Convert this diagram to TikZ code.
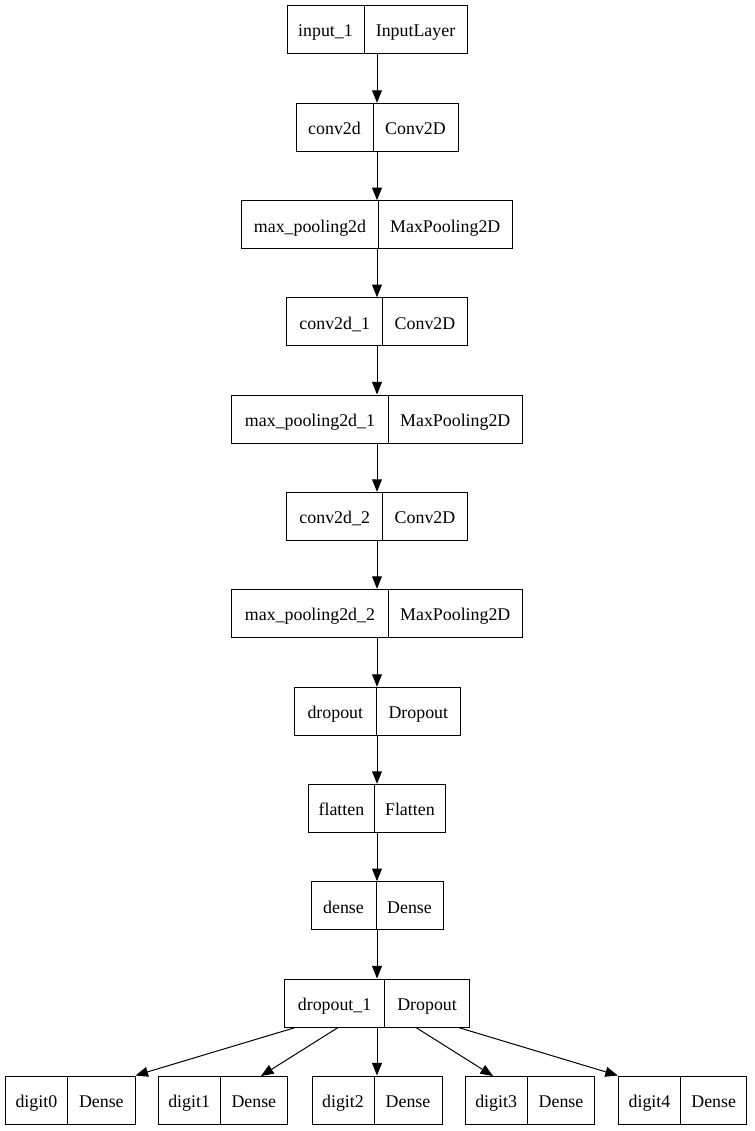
\documentclass[tikz,border=0pt]{standalone}
\usepackage{fontspec}
\setmainfont{Liberation Serif}
\usetikzlibrary{arrows.meta}

\tikzset{
  box/.style={draw=black, line width=0.75pt, minimum height=36pt, inner sep=0pt},
  divider/.style={draw=black, line width=0.75pt},
  lbl/.style={inner sep=0pt, text height=12pt, text depth=1pt},
  arr/.style={draw=black, line width=0.75pt, -{Triangle[length=9.4pt,width=7.4pt]}},
}

% one layer record: name, left x, divider x, right x, top y, layer name, layer class
\newcommand\layerrec[7]{%
  \node[box, minimum width={(#4-#2)*0.75pt}] (#1) at ({(#2+#4)/2},{#5+24}) {};
  \node[lbl] (#1-n) at ({(#2+#3)/2},{#5+24}) {#6};
  \node[lbl] (#1-c) at ({(#3+#4)/2},{#5+24}) {#7};
  \draw[divider] (#3,#5) -- (#3,{#5+48});
}

\begin{document}
\begin{tikzpicture}[x=0.75pt, y=-0.75pt, font=\fontsize{13.4pt}{16pt}\selectfont]
\useasboundingbox (0,0) rectangle (754,1131);

\layerrec{in}{287}{364}{467}{5.5}{input\_1}{InputLayer}
\layerrec{c0}{296}{373}{458}{103.3}{conv2d}{Conv2D}
\layerrec{p0}{241.7}{378.3}{512.3}{200.7}{max\_pooling2d}{MaxPooling2D}
\layerrec{c1}{286.7}{382.7}{467.3}{297.7}{conv2d\_1}{Conv2D}
\layerrec{p1}{231.7}{388.3}{522.3}{395}{max\_pooling2d\_1}{MaxPooling2D}
\layerrec{c2}{286.7}{382.7}{467.3}{492.3}{conv2d\_2}{Conv2D}
\layerrec{p2}{231.7}{388.3}{522.3}{589.3}{max\_pooling2d\_2}{MaxPooling2D}
\layerrec{dr}{294}{376.7}{460}{687.3}{dropout}{Dropout}
\layerrec{fl}{308.5}{374.3}{445.5}{784.3}{flatten}{Flatten}
\layerrec{de}{311}{376}{443}{881.7}{dense}{Dense}
\layerrec{dr1}{284.5}{384.7}{469.5}{979}{dropout\_1}{Dropout}

\layerrec{d0}{5}{67.7}{135}{1076}{digit0}{Dense}
\layerrec{d1}{158.3}{220}{287.7}{1076}{digit1}{Dense}
\layerrec{d2}{312}{374}{442}{1076}{digit2}{Dense}
\layerrec{d3}{465}{527.3}{594.7}{1076}{digit3}{Dense}
\layerrec{d4}{618.3}{680.7}{746.7}{1076}{digit4}{Dense}

% main chain, kept strictly vertical
\draw[arr] (in) -- (in |- c0.north);
\draw[arr] (c0) -- (c0 |- p0.north);
\draw[arr] (p0) -- (p0 |- c1.north);
\draw[arr] (c1) -- (c1 |- p1.north);
\draw[arr] (p1) -- (p1 |- c2.north);
\draw[arr] (c2) -- (c2 |- p2.north);
\draw[arr] (p2) -- (p2 |- dr.north);
\draw[arr] (dr) -- (dr |- fl.north);
\draw[arr] (fl) -- (fl |- de.north);
\draw[arr] (de) -- (de |- dr1.north);

% output heads
\coordinate (t1) at (261,1076);
\coordinate (t3) at (493,1076);
\draw[arr] (dr1) -- (d0.north east);
\draw[arr] (dr1) -- (t1);
\draw[arr] (dr1) -- (dr1 |- d2.north);
\draw[arr] (dr1) -- (t3);
\draw[arr] (dr1) -- (d4.north west);
\end{tikzpicture}
\end{document}
